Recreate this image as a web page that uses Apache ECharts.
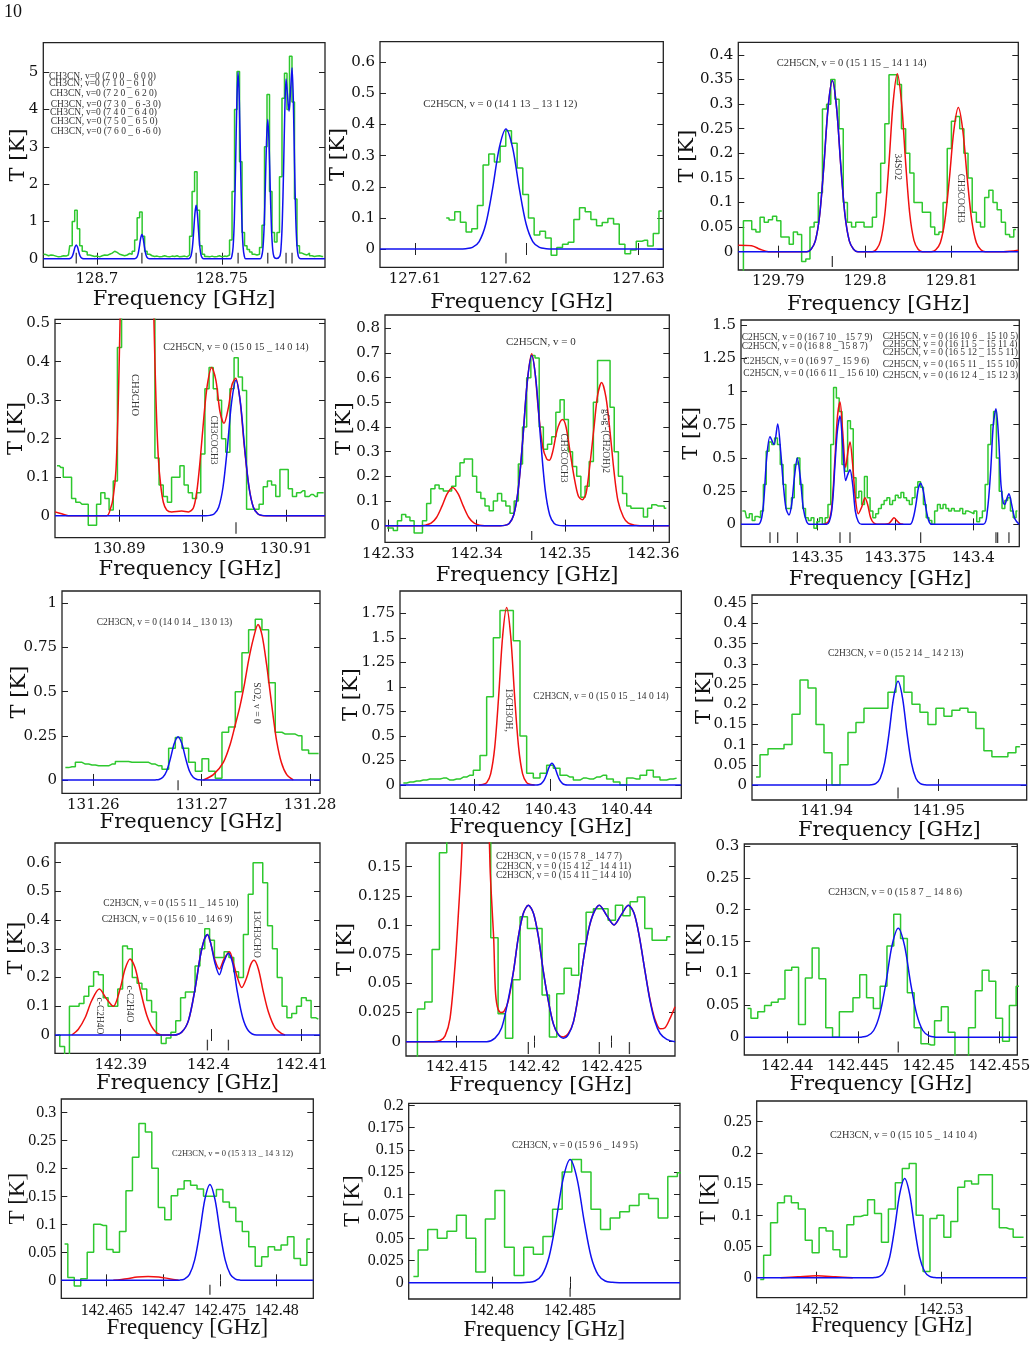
<!DOCTYPE html>
<html>
<head>
<meta charset="utf-8">
<title>Line identification spectra</title>
<script src="https://cdn.jsdelivr.net/npm/echarts@6/dist/echarts.min.js"></script>
<style>
  html, body { margin: 0; padding: 0; background: #fff; }
  #main { width: 1035px; height: 1363px; }
</style>
</head>
<body>
<div id="main"></div>
<script>
// ---------- data (frequency in GHz, T in K) ----------
// observed spectra: first channel centre, channel width, channel values
const p1Start = 128.6786, p1Step = 0.001;
const p1Green = [0.12,0.11,0.08,0.1,0.09,0.07,0.05,0.06,0.08,0.07,0.1,0.35,1.0,1.3,0.8,0.35,0.2,0.18,0.1,0.08,0.06,0.07,0.05,0.08,0.1,0.09,0.12,0.15,0.2,0.17,0.12,0.1,0.08,0.1,0.14,0.12,0.2,0.5,1.1,1.25,0.6,0.2,0.12,0.08,0.06,0.07,0.05,0.06,0.08,0.06,0.05,0.07,0.06,0.08,0.05,0.06,0.07,0.05,0.1,0.6,1.8,2.33,1.3,0.35,0.12,0.06,0.05,0.07,0.05,0.06,0.08,0.05,0.07,0.06,0.1,0.5,1.8,4.0,5.02,2.6,0.7,0.35,0.25,0.18,0.12,0.1,0.12,0.3,0.9,3.0,4.4,1.8,0.7,0.45,0.7,2.2,4.3,4.97,4.0,5.43,4.2,1.6,0.35,0.15,0.12,0.1,0.15,0.08,0.06,0.07,0.08,0.06,0.06];
const p1Blue = [[128.6786,0],[128.6887,0],[128.68922,0.005],[128.68972,0.023],[128.69022,0.078],[128.69072,0.185],[128.69122,0.311],[128.69172,0.37],[128.69222,0.311],[128.69272,0.185],[128.69322,0.078],[128.69372,0.023],[128.69422,0.005],[128.6947,0],
  [128.715,0],[128.7155,0.009],[128.716,0.041],[128.7165,0.137],[128.717,0.325],[128.7175,0.547],[128.718,0.65],[128.7185,0.547],[128.719,0.325],[128.7195,0.137],[128.72,0.041],[128.7205,0.009],[128.721,0],
  [128.7367,0],[128.73722,0.019],[128.73772,0.089],[128.73822,0.3],[128.73872,0.715],[128.73922,1.203],[128.73972,1.43],[128.74022,1.203],[128.74072,0.715],[128.74122,0.3],[128.74172,0.089],[128.74222,0.019],[128.7427,0],
  [128.7535,0],[128.75402,0.066],[128.75452,0.313],[128.75502,1.05],[128.75552,2.5],[128.75602,4.205],[128.75652,5.0],[128.75702,4.205],[128.75752,2.5],[128.75802,1.05],[128.75852,0.313],[128.75902,0.066],[128.7595,0],
  [128.7654,0],[128.7659,0.049],[128.7664,0.233],[128.7669,0.783],[128.7674,1.865],[128.7679,3.137],[128.7684,3.73],[128.7689,3.137],[128.7694,1.865],[128.7699,0.783],[128.7704,0.233],[128.7709,0.049],[128.7718,0.008],
  [128.77322,0.07],[128.77372,0.3],[128.77422,1.0],[128.77472,2.35],[128.77522,3.95],[128.77572,4.82],[128.77622,4.45],[128.77692,3.95],[128.77762,4.6],[128.77812,5.12],[128.77862,4.3],[128.77912,2.55],[128.77962,1.07],[128.78012,0.32],[128.78062,0.07],[128.78112,0.01],[128.7816,0],[128.7913,0]];
const p1Lines = [128.69172,128.718,128.73972,128.75652,128.7684,128.77572,128.77812];
const p1XLabels = [128.7,128.75];
const p1YTicks = [0,1,2,3,4,5];

const p2Start = 127.6128, p2Step = 0.000508;
const p2Green = [0.1,0.093,0.12,0.086,0.055,0.065,0.14,0.27,0.305,0.28,0.33,0.38,0.34,0.26,0.175,0.1,0.045,0.057,0.035,-0.02,0.005,0.015,0.022,0.095,0.133,0.12,0.095,0.075,0.085,0.098,0.08,0.015,-0.015,-0.003,0.025,0.028,0.01,0.05,0.122];
const p2Blue = [[127.60687,0],[127.61395,0],[127.61455,0.001],[127.61515,0.005],[127.61575,0.024],[127.61635,0.081],[127.61695,0.193],[127.61755,0.325],[127.61815,0.386],[127.61875,0.325],[127.61935,0.193],[127.61995,0.081],[127.62055,0.024],[127.62115,0.005],[127.62175,0.001],[127.62235,0],[127.63224,0]];
const p2Lines = [127.61815];
const p2XLabels = [127.61,127.6181,127.63];
const p2XTicks = [127.61,127.62,127.63];
const p2YTicks = [0,0.1,0.2,0.3,0.4,0.5,0.6];

const p3Start = 129.78573, p3Step = 0.00048;
const p3Green = [-0.06,0.063,0.063,0.045,0.04,0.07,0.06,0.065,0.072,0.063,0.03,0.03,0.015,0.04,0.035,-0.02,-0.015,0.05,0.06,0.12,0.29,0.3,0.35,0.31,0.25,0.1,0.06,0.05,0.06,0.06,0.05,0.05,0.07,0.12,0.18,0.26,0.36,0.36,0.34,0.25,0.2,0.16,0.1,0.1,0.08,0.08,0.05,0.035,0.04,0.1,0.21,0.265,0.275,0.25,0.2,0.15,0.08,0.06,0.05,0.11,0.125,0.1,0.085,0.06,0.035,0.03,0.045];
const p3Blue = [[129.78538,0],[129.79329,0],[129.79378,0.005],[129.79427,0.022],[129.79476,0.073],[129.79525,0.174],[129.79574,0.293],[129.79623,0.348],[129.79672,0.293],[129.79721,0.174],[129.7977,0.073],[129.79819,0.022],[129.79868,0.005],[129.79917,0],[129.81769,0]];
const p3Red = [[129.78538,0.013],[129.78692,0.012],[129.78788,0.005],[129.78885,0],[129.79329,0],[129.79378,0.005],[129.79427,0.022],[129.79476,0.073],[129.79525,0.174],[129.79574,0.293],[129.79623,0.348],[129.79672,0.293],[129.79721,0.174],[129.7977,0.073],[129.79819,0.022],[129.79868,0.005],[129.79917,0],
  [129.80085,0],[129.80133,0.005],[129.80181,0.023],[129.80229,0.076],[129.80277,0.181],[129.80325,0.304],[129.80373,0.362],[129.80421,0.304],[129.80469,0.181],[129.80517,0.076],[129.80565,0.023],[129.80613,0.005],[129.80661,0],
  [129.80765,0],[129.80817,0.004],[129.80869,0.018],[129.80921,0.062],[129.80973,0.147],[129.81025,0.246],[129.81077,0.293],[129.81129,0.246],[129.81181,0.147],[129.81233,0.062],[129.81285,0.018],[129.81337,0.004],[129.81389,0],[129.81596,0],[129.81769,0.003]];
const p3Lines = [129.79623];
const p3XLabels = [129.79,129.8,129.81];
const p3YTicks = [0,0.05,0.1,0.15,0.2,0.25,0.3,0.35,0.4];

const p4Start = 130.88252, p4Step = 0.0005;
const p4Green = [0.13,0.125,0.1,0.1,0.045,0.035,0.03,0.03,-0.025,-0.025,0.03,0.06,0.045,0.015,0.09,0.437,0.8,0.9,0.9,0.9,0.9,0.9,0.8,0.7,0.15,0.08,0.05,0.035,0.1,0.1,0.13,0.08,0.06,0.045,0.06,0.16,0.33,0.385,0.33,0.3,0.2,0.165,0.33,0.41,0.36,0.325,0.017,0.017,0.017,0.03,0.075,0.09,0.08,0.05,0.12,0.12,0.07,0.05,0.06,0.065,0.05,0.055,0.05,0.06,0.06];
const p4Blue = [[130.88228,0],[130.90036,0],[130.90088,0.001],[130.9014,0.005],[130.90192,0.022],[130.90244,0.074],[130.90296,0.176],[130.90348,0.296],[130.904,0.352],[130.90452,0.296],[130.90504,0.176],[130.90556,0.074],[130.90608,0.022],[130.9066,0.005],[130.90712,0.001],[130.90764,0],[130.91468,0]];
const p4Red = [[130.88228,0.01],[130.88308,0.005],[130.88388,0],[130.88848,0],[130.88896,0.02],[130.88928,0.05],[130.8896,0.12],[130.88988,0.3],[130.89008,0.5],[130.8904,0.8],[130.89108,1.2],[130.89216,1.4],[130.89328,1.2],[130.89388,0.8],[130.89416,0.5],[130.8944,0.3],[130.89468,0.15],[130.89496,0.08],[130.89528,0.035],[130.89568,0.015],[130.89628,0.01],[130.89748,0.012],[130.89828,0.01],[130.89888,0.02],[130.89928,0.06],[130.89968,0.14],[130.90016,0.26],[130.90056,0.34],[130.90108,0.385],[130.9016,0.35],[130.90208,0.27],[130.90256,0.24],[130.90308,0.28],[130.90352,0.34],[130.90396,0.357],[130.90448,0.3],[130.905,0.18],[130.90552,0.08],[130.90608,0.022],[130.90668,0.004],[130.90728,0],[130.91468,0]];
const p4Lines = [130.904];
const p4XLabels = [130.89,130.9,130.91];
const p4YTicks = [0,0.1,0.2,0.3,0.4,0.5];

const p5Start = 142.32985, p5Step = 0.000472;
const p5Green = [-0.01,-0.01,-0.02,0.02,0.045,0.035,0.02,-0.03,-0.03,0.02,0.09,0.15,0.165,0.15,0.14,0.14,0.16,0.2,0.255,0.27,0.27,0.2,0.135,0.11,0.08,0.06,0.1,0.13,0.1,0.08,0.05,0.1,0.25,0.4,0.6,0.69,0.68,0.4,0.31,0.33,0.36,0.46,0.51,0.43,0.3,0.24,0.2,0.115,0.16,0.26,0.5,0.67,0.67,0.67,0.48,0.3,0.2,0.13,0.08,0.07,0.07,0.07,0.035,0.07,0.085,0.08,0.08,0.07];
const p5Blue = [[142.32962,0],[142.34266,0],[142.34317,0.001],[142.34368,0.009],[142.34419,0.043],[142.3447,0.145],[142.34521,0.345],[142.34572,0.58],[142.34623,0.69],[142.34674,0.58],[142.34725,0.345],[142.34776,0.145],[142.34827,0.043],[142.34878,0.009],[142.34929,0.001],[142.3498,0],[142.36181,0]];
const p5Red = [[142.32962,0],[142.3337,0],[142.33423,0.002],[142.33484,0.0097],[142.33545,0.033],[142.33606,0.078],[142.33667,0.13],[142.33728,0.155],[142.33789,0.13],[142.3385,0.078],[142.33911,0.033],[142.33972,0.0097],[142.34033,0.002],[142.3409,0],
  [142.34266,0],[142.34317,0.001],[142.34368,0.009],[142.34419,0.043],[142.3447,0.145],[142.34521,0.345],[142.34572,0.58],[142.34623,0.697],[142.34661,0.62],[142.34698,0.47],[142.34747,0.32],[142.34793,0.27],[142.34823,0.265],[142.34861,0.3],[142.34906,0.38],[142.34944,0.42],[142.34974,0.43],[142.35012,0.4],[142.35057,0.3],[142.35102,0.2],[142.35151,0.12],[142.35196,0.105],[142.35238,0.13],[142.35283,0.25],[142.35329,0.4],[142.3537,0.53],[142.35415,0.58],[142.35464,0.52],[142.3551,0.38],[142.35555,0.22],[142.356,0.1],[142.35661,0.035],[142.35717,0.01],[142.35793,0.002],[142.35849,0],[142.36181,0]];
const p5Lines = [142.34623];
const p5XLabels = [142.33,142.34,142.35,142.36];
const p5YTicks = [0,0.1,0.2,0.3,0.4,0.5,0.6,0.7,0.8];

const p6Start = 143.32596, p6Step = 0.0009;
const p6Green = [0.1,0.1,0.05,0.08,0.03,0.06,0.05,0.1,0.3,0.55,0.62,0.6,0.65,0.6,0.45,0.3,0.12,0.12,0.2,0.45,0.5,0.3,0.12,0.05,0.03,0.05,-0.03,0.02,0.05,0.0,0.05,0.15,0.6,1.03,0.95,0.85,0.45,0.4,0.78,0.72,0.35,0.2,0.25,0.15,0.36,0.2,0.1,0.05,0.08,0.12,0.15,0.18,0.2,0.15,0.18,0.22,0.2,0.24,0.2,0.18,0.15,0.2,0.28,0.32,0.28,0.15,0.05,0.03,0.0,0.1,0.15,0.12,0.15,0.12,0.1,0.12,0.1,0.1,0.12,0.08,0.1,0.09,0.08,0.1,0.02,0.05,0.1,0.3,0.6,0.75,0.85,0.5,0.25,0.12,0.18,0.2,0.1,0.05,0.1];
const p6Blue = [[143.32553,0],[143.33109,0],[143.33216,0.05],[143.33291,0.2],[143.33376,0.5],[143.33483,0.66],[143.33611,0.6],[143.33729,0.755],[143.33825,0.55],[143.3391,0.3],[143.33996,0.12],[143.34092,0.07],[143.34177,0.15],[143.34263,0.35],[143.34359,0.5],[143.34455,0.35],[143.34551,0.12],[143.34658,0.02],[143.34765,0],
  [143.35299,0],[143.35459,0.1],[143.35566,0.45],[143.35641,0.7],[143.35727,0.815],[143.35812,0.6],[143.35908,0.33],[143.35983,0.38],[143.36047,0.41],[143.36133,0.3],[143.36218,0.1],[143.36314,0.02],[143.36421,0],
  [143.3797,0],[143.38077,0.05],[143.38162,0.15],[143.38237,0.27],[143.38312,0.31],[143.38398,0.25],[143.38483,0.12],[143.38568,0.03],[143.38665,0],
  [143.40321,0],[143.40449,0.1],[143.40556,0.4],[143.40641,0.75],[143.40727,0.87],[143.40812,0.65],[143.40887,0.3],[143.40962,0.16],[143.41015,0.15],[143.41069,0.19],[143.41143,0.23],[143.41229,0.15],[143.41336,0.04],[143.41475,0]];
const p6Red = [[143.35192,0],[143.35353,0.02],[143.35459,0.12],[143.35566,0.5],[143.35641,0.8],[143.35727,0.92],[143.35812,0.7],[143.35908,0.43],[143.35983,0.55],[143.36047,0.62],[143.36133,0.45],[143.36218,0.2],[143.36314,0.08],[143.36421,0.13],[143.36528,0.2],[143.36613,0.15],[143.36709,0.05],[143.36816,0.01],[143.37009,0],[143.37276,0.005],[143.37383,0.03],[143.37457,0.05],[143.37543,0.03],[143.3765,0.005],[143.37756,0]];
const p6Lines = [143.33483,143.33729,143.34359,143.35727,143.36047,143.38312,143.40727,143.4078,143.41143];
const p6XLabels = [143.35,143.375,143.4];
const p6YTicks = [0,0.25,0.5,0.75,1,1.25,1.5];

const p7Start = 131.25742, p7Step = 0.000615;
const p7Green = [0.07,0.075,0.1,0.09,0.085,0.08,0.08,0.09,0.105,0.105,0.1,0.1,0.1,0.09,0.08,0.06,0.18,0.24,0.18,0.1,0.05,0.12,0.05,0.01,0.27,0.3,0.5,0.72,0.85,0.91,0.85,0.55,0.27,0.26,0.26,0.25,0.17,0.15,0.15];
const p7Blue = [[131.25711,0],[131.26537,0],[131.26572,0.0005],[131.26607,0.003],[131.26642,0.015],[131.26677,0.051],[131.26712,0.1225],[131.26747,0.206],[131.26782,0.245],[131.26817,0.206],[131.26852,0.1225],[131.26887,0.051],[131.26922,0.015],[131.26957,0.003],[131.26992,0.0005],[131.27027,0],[131.28092,0]];
const p7Red = [[131.27015,0],[131.27108,0.03],[131.272,0.1],[131.27262,0.2],[131.27305,0.3],[131.27354,0.42],[131.27397,0.55],[131.27434,0.68],[131.27477,0.8],[131.2752,0.88],[131.27557,0.82],[131.276,0.65],[131.27631,0.5],[131.27662,0.35],[131.27692,0.22],[131.27735,0.1],[131.27785,0.03],[131.27846,0]];
const p7Lines = [131.26782];
const p7XLabels = [131.26,131.27,131.28];
const p7YTicks = [0,0.25,0.5,0.75,1];

const p8Start = 140.41062, p8Step = 0.000877;
const p8Green = [0.02,0.03,0.04,0.05,0.06,0.06,0.07,0.05,0.06,0.08,0.1,0.15,0.3,0.9,1.5,1.78,1.78,1.47,0.5,0.12,0.07,0.12,0.2,0.17,0.1,0.08,0.05,0.07,0.06,0.08,0.1,0.06,0.03,0.0,0.07,0.06,0.1,0.15,0.08,0.05,0.06,0.07];
const p8Blue = [[140.41018,0],[140.42772,0],[140.42807,0.0005],[140.42842,0.003],[140.42877,0.014],[140.42912,0.046],[140.42947,0.11],[140.42982,0.186],[140.43017,0.221],[140.43052,0.186],[140.43087,0.11],[140.43122,0.046],[140.43157,0.014],[140.43192,0.003],[140.43227,0.0005],[140.43262,0],[140.44719,0]];
const p8Red = [[140.42054,0],[140.42106,0.004],[140.42159,0.024],[140.42211,0.113],[140.42264,0.38],[140.42316,0.905],[140.42369,1.522],[140.42421,1.81],[140.42474,1.522],[140.42526,0.905],[140.42579,0.38],[140.42631,0.113],[140.42684,0.024],[140.42736,0.004],[140.42789,0]];
const p8Lines = [];
const p8XLabels = [140.42,140.43,140.44];
const p8YTicks = [0,0.25,0.5,0.75,1,1.25,1.5,1.75];

const p9Start = 141.93369, p9Step = 0.000714;
const p9Green = [0.02,0.075,0.09,0.09,0.1,0.175,0.26,0.24,0.15,0.08,0.0,0.05,0.13,0.155,0.19,0.19,0.19,0.23,0.27,0.23,0.2,0.18,0.15,0.19,0.17,0.185,0.19,0.18,0.14,0.085,0.07,0.07,0.08,0.095];
const p9Blue = [[141.93333,0],[141.94357,0],[141.94397,0.0005],[141.94437,0.0034],[141.94477,0.016],[141.94517,0.054],[141.94557,0.1285],[141.94597,0.216],[141.94637,0.257],[141.94677,0.216],[141.94717,0.1285],[141.94757,0.054],[141.94797,0.016],[141.94837,0.0034],[141.94877,0.0005],[141.94917,0],[141.95786,0]];
const p9Lines = [141.94637];
const p9XLabels = [141.94,141.95];
const p9YTicks = [0,0.05,0.1,0.15,0.2,0.25,0.3,0.35,0.4,0.45];

const p10Start = 142.383, p10Step = 0.000534;
const p10Green = [0.0,-0.04,-0.08,0.1,0.1,0.11,0.135,0.17,0.22,0.21,0.13,0.1,0.1,0.16,0.31,0.3,0.2,0.18,0.16,0.12,0.08,0.0,-0.03,-0.01,0.01,0.05,0.13,0.15,0.15,0.24,0.3,0.37,0.33,0.27,0.27,0.29,0.27,0.22,0.2,0.35,0.49,0.6,0.6,0.53,0.38,0.3,0.2,0.1,0.06,0.075,0.1,0.13,0.12,0.06,0.055];
const p10Blue = [[142.38274,0],[142.39582,0],[142.39674,0.01],[142.39748,0.05],[142.39821,0.16],[142.39877,0.27],[142.39921,0.33],[142.39958,0.35],[142.39994,0.32],[142.40042,0.25],[142.4009,0.21],[142.40134,0.25],[142.4019,0.285],[142.40237,0.25],[142.40289,0.15],[142.40348,0.06],[142.40411,0.015],[142.40503,0],[142.41202,0]];
const p10Red = [[142.38459,0],[142.38532,0.02],[142.38606,0.06],[142.3868,0.12],[142.38764,0.16],[142.38845,0.125],[142.38919,0.1],[142.38993,0.16],[142.39048,0.23],[142.39103,0.265],[142.39158,0.235],[142.39214,0.16],[142.39287,0.07],[142.39361,0.02],[142.39453,0],[142.39582,0],[142.39674,0.01],[142.39748,0.05],[142.39821,0.16],[142.39877,0.27],[142.39921,0.33],[142.39958,0.35],[142.39994,0.32],[142.40042,0.26],[142.4009,0.23],[142.40142,0.265],[142.40201,0.29],[142.40245,0.25],[142.40289,0.2],[142.40337,0.165],[142.40392,0.2],[142.40436,0.245],[142.40473,0.26],[142.40521,0.23],[142.40576,0.15],[142.40632,0.08],[142.40705,0.025],[142.40779,0.005],[142.40816,0]];
const p10Lines = [142.39958,142.4019];
const p10XLabels = [142.39,142.3997,142.41];
const p10XTicks = [142.39,142.4,142.41];
const p10YTicks = [0,0.1,0.2,0.3,0.4,0.5,0.6];

const p11Start = 142.41223, p11Step = 0.000473;
const p11Green = [-0.02,0.028,0.034,0.079,0.162,0.25,0.3,0.3,0.3,0.3,0.25,0.089,0.024,0.003,0.053,0.107,0.097,0.097,0.04,0.004,0.041,0.063,0.057,0.084,0.111,0.114,0.114,0.104,0.117,0.108,0.12,0.124,0.097,0.087,0.087,0.09];
const p11Blue = [[142.41173,0],[142.41694,0],[142.41747,0.003],[142.4179,0.012],[142.41823,0.03],[142.41866,0.06],[142.41898,0.09],[142.4193,0.11],[142.41962,0.117],[142.41995,0.11],[142.42027,0.09],[142.42059,0.06],[142.42091,0.035],[142.42124,0.015],[142.42156,0.006],[142.42188,0.003],[142.4222,0.006],[142.42253,0.017],[142.42285,0.04],[142.42317,0.07],[142.42349,0.095],[142.42382,0.11],[142.4242,0.117],[142.42468,0.108],[142.42515,0.1],[142.42558,0.108],[142.42607,0.117],[142.42644,0.11],[142.42678,0.09],[142.42715,0.06],[142.42747,0.035],[142.42779,0.017],[142.42812,0.007],[142.42855,0.002],[142.42908,0]];
const p11Red = [[142.41173,0],[142.4135,0],[142.41393,0.001],[142.41425,0.005],[142.41457,0.02],[142.41489,0.065],[142.41511,0.11],[142.41532,0.16],[142.41554,0.25],[142.41586,0.45],[142.41629,0.6],[142.41672,0.45],[142.41698,0.25],[142.41715,0.15],[142.4173,0.11],[142.41739,0.087],[142.41749,0.045],[142.41762,0.03],[142.41784,0.025],[142.41805,0.026],[142.41833,0.035],[142.41866,0.06],[142.41898,0.09],[142.4193,0.11],[142.41962,0.117],[142.41995,0.11],[142.42027,0.09],[142.42059,0.06],[142.42091,0.035],[142.42124,0.015],[142.42156,0.006],[142.42188,0.004],[142.4222,0.007],[142.42253,0.017],[142.42285,0.04],[142.42317,0.07],[142.42349,0.095],[142.42382,0.11],[142.4242,0.117],[142.42468,0.108],[142.42515,0.1],[142.42558,0.108],[142.42607,0.117],[142.42644,0.11],[142.42678,0.09],[142.42715,0.06],[142.42747,0.036],[142.42779,0.019],[142.42812,0.011],[142.42844,0.012],[142.42876,0.02],[142.42908,0.03]];
const p11Lines = [142.41962,142.4242,142.42614];
const p11XLabels = [142.415,142.42,142.425];
const p11YTicks = [0,0.025,0.05,0.075,0.1,0.125,0.15];

const p12Start = 142.43719, p12Step = 0.000481;
const p12Green = [0.045,0.03,0.04,0.05,0.055,0.06,0.105,0.11,0.02,0.093,0.14,0.092,0.015,0.0,0.04,0.04,0.062,0.098,0.062,0.045,0.08,0.143,0.193,0.155,0.07,0.015,-0.01,-0.012,0.026,0.048,0.008,-0.04,-0.04,0.015,0.073,0.105,0.088,0.03,-0.006,0.05,0.08];
const p12Blue = [[142.43696,0],[142.44479,0],[142.44523,0.0003],[142.44567,0.0022],[142.44611,0.0107],[142.44654,0.036],[142.44698,0.0855],[142.44741,0.144],[142.44785,0.171],[142.44829,0.144],[142.44872,0.0855],[142.44916,0.036],[142.44959,0.0107],[142.45003,0.0022],[142.45047,0.0003],[142.45091,0],[142.45627,0]];
const p12Lines = [142.44785];
const p12XLabels = [142.44,142.445,142.45,142.455];
const p12YTicks = [0,0.05,0.1,0.15,0.2,0.25,0.3];

const p13Start = 142.46129, p13Step = 0.00057;
const p13Green = [0.065,0.005,-0.01,0.003,0.05,0.1,0.098,0.055,0.05,0.087,0.16,0.22,0.28,0.265,0.2,0.13,0.108,0.151,0.163,0.178,0.17,0.163,0.15,0.15,0.162,0.14,0.13,0.105,0.087,0.06,0.025,0.042,0.06,0.054,0.063,0.078,0.039,0.027,0.074];
const p13Blue = [[142.461,0],[142.47096,0],[142.47141,0.0003],[142.47186,0.0022],[142.47231,0.0107],[142.47276,0.036],[142.47321,0.0855],[142.47366,0.144],[142.47411,0.171],[142.47456,0.144],[142.47501,0.0855],[142.47546,0.036],[142.47591,0.0107],[142.47636,0.0022],[142.47681,0.0003],[142.47726,0],[142.48323,0]];
const p13Red = [[142.46559,0],[142.4668,0.003],[142.4677,0.006],[142.46865,0.007],[142.4696,0.006],[142.4705,0.003],[142.47135,0]];
const p13Lines = [142.47411];
const p13XLabels = [142.465,142.47,142.475,142.48];
const p13YTicks = [0,0.05,0.1,0.15,0.2,0.25,0.3];

const p14Start = 142.47496, p14Step = 0.000615;
const p14Green = [0.007,0.037,0.06,0.05,0.058,0.076,0.05,0.012,0.072,0.104,0.04,0.008,0.04,0.032,0.052,0.083,0.125,0.139,0.125,0.083,0.06,0.073,0.08,0.087,0.1,0.095,0.073,0.12,0.124];
const p14Blue = [[142.47466,0],[142.48185,0],[142.4823,0.0003],[142.48275,0.0018],[142.4832,0.0087],[142.48365,0.029],[142.4841,0.0695],[142.48455,0.117],[142.485,0.139],[142.48545,0.117],[142.4859,0.0695],[142.48635,0.029],[142.4868,0.0087],[142.48725,0.0018],[142.4877,0.0003],[142.48815,0],[142.49204,0]];
const p14Lines = [142.485];
const p14XLabels = [142.48,142.485];
const p14YTicks = [0,0.025,0.05,0.075,0.1,0.125,0.15,0.175,0.2];

const p15Start = 142.51547, p15Step = 0.000556;
const p15Green = [-0.003,0.036,0.088,0.12,0.131,0.12,0.11,0.06,0.04,0.08,0.075,0.045,0.033,0.085,0.098,0.1,0.125,0.103,0.057,0.11,0.152,0.175,0.183,0.1,0.01,0.095,0.1,0.065,0.09,0.145,0.155,0.15,0.165,0.165,0.11,0.08,0.078,0.065,0.065];
const p15Blue = [[142.51519,0],[142.52426,0],[142.52466,0.0003],[142.52506,0.002],[142.52546,0.01],[142.52586,0.033],[142.52626,0.0795],[142.52666,0.134],[142.52706,0.159],[142.52746,0.134],[142.52786,0.0795],[142.52826,0.033],[142.52866,0.01],[142.52906,0.002],[142.52946,0.0003],[142.52986,0],[142.53685,0]];
const p15Red = [[142.5171,0],[142.5185,0.0015],[142.52,0.003],[142.5215,0.0015],[142.5229,0]];
const p15Lines = [142.52706];
const p15XLabels = [142.52,142.53];
const p15YTicks = [0,0.05,0.1,0.15,0.2,0.25];

// ---------- layout ----------
const GREEN = '#2ec82e', BLUE = '#1010f0', RED = '#f01010';
const SERIF = 'DejaVu Serif', NARROW = 'Liberation Serif';

const panels = [
  { box:[43.3,42.7,281.7,224.6], x:[128.67852,128.79132], y:[-0.23,5.79], start:p1Start, step:p1Step, green:p1Green, blue:p1Blue, lines:p1Lines, xLab:p1XLabels, yTicks:p1YTicks, lineY:0.018, lineH:10.7, xGap:22, yGap:14.3 },
  { box:[380,41.7,283.3,225.6], x:[127.60687,127.63224], y:[-0.0588,0.6663], start:p2Start, step:p2Step, green:p2Green, blue:p2Blue, lines:p2Lines, xLab:p2XLabels, xTicks:p2XTicks, xDig:2, yTicks:p2YTicks, lineY:-0.029, lineH:10.7, xGap:25, yGap:30.5 },
  { box:[738.3,42.3,280,227.7], x:[129.78538,129.81769], y:[-0.0373,0.4258], start:p3Start, step:p3Step, green:p3Green, red:p3Red, blue:p3Blue, lines:p3Lines, xLab:p3XLabels, yTicks:p3YTicks, lineY:-0.02, lineH:11, xGap:24, yGap:39.8 },
  { box:[55,319.3,270,218.4], x:[130.88228,130.91468], y:[-0.057,0.51], start:p4Start, step:p4Step, green:p4Green, red:p4Red, blue:p4Blue, lines:p4Lines, xLab:p4XLabels, yTicks:p4YTicks, lineY:-0.032, lineH:11.5, xGap:21, yGap:27.8 },
  { box:[385,315,284.3,227.3], x:[142.32962,142.36181], y:[-0.0676,0.854], start:p5Start, step:p5Step, green:p5Green, red:p5Red, blue:p5Blue, lines:p5Lines, xLab:p5XLabels, yTicks:p5YTicks, lineY:-0.04, lineH:9, xGap:23, yGap:29.5 },
  { box:[741,320,278.3,226.7], x:[143.32553,143.41475], y:[-0.168,1.5375], start:p6Start, step:p6Step, green:p6Green, red:p6Red, blue:p6Blue, lines:p6Lines, xLab:p6XLabels, yTicks:p6YTicks, lineY:-0.1, lineH:10.7, xGap:22, yGap:38.5 },
  { box:[62,591,258,202.3], x:[131.25711,131.28092], y:[-0.0755,1.07], start:p7Start, step:p7Step, green:p7Green, red:p7Red, blue:p7Blue, lines:p7Lines, xLab:p7XLabels, yTicks:p7YTicks, lineY:-0.03, lineH:10, xGap:19, yGap:31.5 },
  { box:[400,591,281.3,207.3], x:[140.41018,140.44719], y:[-0.136,1.978], start:p8Start, step:p8Step, green:p8Green, red:p8Red, blue:p8Blue, lines:p8Lines, xLab:p8XLabels, yTicks:p8YTicks, lineY:0, lineH:10, xGap:19, yGap:37.5 },
  { box:[752,595,274.7,205], x:[141.93333,141.95786], y:[-0.0372,0.4707], start:p9Start, step:p9Step, green:p9Green, blue:p9Blue, lines:p9Lines, xLab:p9XLabels, yTicks:p9YTicks, lineY:-0.02, lineH:11, xGap:20, yGap:37 },
  { box:[55,843,265,210.3], x:[142.38274,142.41202], y:[-0.0637,0.6685], start:p10Start, step:p10Step, green:p10Green, red:p10Red, blue:p10Blue, lines:p10Lines, xLab:p10XLabels, xTicks:p10XTicks, xDig:2, yTicks:p10YTicks, lineY:-0.035, lineH:10.7, xGap:20, yGap:27.5 },
  { box:[406,843,269,213], x:[142.41173,142.42908], y:[-0.0123,0.1703], start:p11Start, step:p11Step, green:p11Green, red:p11Red, blue:p11Blue, lines:p11Lines, xLab:p11XLabels, yTicks:p11YTicks, lineY:-0.0055, lineH:12, xGap:19.5, yGap:49.5 },
  { box:[744.3,844,273,211], x:[142.43696,142.45627], y:[-0.0277,0.303], start:p12Start, step:p12Step, green:p12Green, blue:p12Blue, lines:p12Lines, xLab:p12XLabels, yTicks:p12YTicks, lineY:-0.015, lineH:11, xGap:19, yGap:37.8 },
  { box:[61.3,1099,252,199.3], x:[142.461,142.48323], y:[-0.0321,0.3238], start:p13Start, step:p13Step, green:p13Green, red:p13Red, blue:p13Blue, lines:p13Lines, xLab:p13XLabels, yTicks:p13YTicks, lineY:-0.017, lineH:10, xGap:18, yGap:32, narrow:true },
  { box:[408.7,1103.3,271.3,195.7], x:[142.47466,142.49204], y:[-0.0185,0.2026], start:p14Start, step:p14Step, green:p14Green, blue:p14Blue, lines:p14Lines, xLab:p14XLabels, yTicks:p14YTicks, lineY:-0.011, lineH:9, xGap:19, yGap:44, narrow:true },
  { box:[756.7,1101,270,196.7], x:[142.51519,142.53685], y:[-0.032,0.2831], start:p15Start, step:p15Step, green:p15Green, red:p15Red, blue:p15Blue, lines:p15Lines, xLab:p15XLabels, yTicks:p15YTicks, lineY:-0.02, lineH:10.7, xGap:17, yGap:36, narrow:true }
];

// annotations: [text, x, y, vertical, font size]
const notes = [
  ['CH3CN, v=0 (7 0 0 _ 6 0 0)', 49, 76.7], ['CH3CN, v=0 (7 1 0 _ 6 1 0', 49, 83.3],
  ['CH3CN, v=0 (7 2 0 _ 6 2 0)', 50, 93.3], ['CH3CN, v=0 (7 3 0 _ 6 -3 0)', 50.7, 104],
  ['CH3CN, v=0 (7 4 0 _ 6 4 0)', 50, 112], ['CH3CN, v=0 (7 5 0 _ 6 5 0)', 50.7, 121.7],
  ['CH3CN, v=0 (7 6 0 _ 6 -6 0)', 50.7, 131.7],
  ['C2H5CN, v = 0 (14 1 13 _ 13 1 12)', 423.3, 104, false, 10.8],
  ['C2H5CN, v = 0 (15 1 15 _ 14 1 14)', 776.7, 63.3, false, 10.5],
  ['34SO2', 897.3, 166.7, true], ['CH3COCH3', 960.7, 198.3, true],
  ['C2H5CN, v = 0 (15 0 15 _ 14 0 14)', 163.3, 347.7, false, 10.2],
  ['CH3CHO', 135, 395, true, 10.5], ['CH3COCH3', 213.3, 440, true],
  ['C2H5CN, v = 0', 506, 342.3, false, 11],
  ['CH3COCH3', 563.3, 458, true], ["gGg'-(CH2OH)2", 605, 441, true],
  ['C2H5CN, v = 0 (16 7 10 _ 15 7 9)', 741.7, 337.3], ['C2H5CN, v = 0 (16 8 8 _ 15 8 7)', 741.7, 346.7],
  ['C2H5CN, v = 0 (16 9 7 _ 15 9 6)', 743.3, 361.7], ['C2H5CN, v = 0 (16 6 11 _ 15 6 10)', 743.3, 373.3],
  ['C2H5CN, v = 0 (16 10 6 _ 15 10 5)', 882.7, 336], ['C2H5CN, v = 0 (16 11 5 _ 15 11 4)', 882.7, 344.3],
  ['C2H5CN, v = 0 (16 5 12 _ 15 5 11)', 882.7, 352.7], ['C2H5CN, v = 0 (16 5 11 _ 15 5 10)', 882.7, 364],
  ['C2H5CN, v = 0 (16 12 4 _ 15 12 3)', 882.7, 375.7],
  ['C2H3CN, v = 0 (14 0 14 _ 13 0 13)', 96.7, 622.7], ['SO2, v = 0', 256.7, 703, true],
  ['C2H3CN, v = 0 (15 0 15 _ 14 0 14)', 533.3, 696.7], ['13CH3OH,', 508, 710, true],
  ['C2H3CN, v = 0 (15 2 14 _ 14 2 13)', 828, 653.3],
  ['C2H3CN, v = 0 (15 5 11 _ 14 5 10)', 103.3, 903.3], ['C2H3CN, v = 0 (15 6 10 _ 14 6 9)', 101.7, 919],
  ['c-C2H4O', 99.3, 1016, true], ['c-C2H4O', 129.3, 1004, true], ['13CH3CHO', 256.7, 934, true],
  ['C2H3CN, v = 0 (15 7 8 _ 14 7 7)', 496, 856.7], ['C2H3CN, v = 0 (15 4 12 _ 14 4 11)', 496, 866],
  ['C2H3CN, v = 0 (15 4 11 _ 14 4 10)', 496, 875],
  ['C2H3CN, v = 0 (15 8 7 _ 14 8 6)', 828.3, 892.7, false, 10.1],
  ['C2H3CN, v = 0 (15 3 13 _ 14 3 12)', 172, 1153.3, false, 8.5],
  ['C2H3CN, v = 0 (15 9 6 _ 14 9 5)', 512, 1145.7],
  ['C2H3CN, v = 0 (15 10 5 _ 14 10 4)', 830, 1135.7, false, 10.3]
];

// ---------- build option ----------
const grid = [], xAxis = [], yAxis = [], series = [];
const tickStyle = { inside: true, length: 6, lineStyle: { color: '#222', width: 1 } };

panels.forEach((p, k) => {
  const nameStyle = p.narrow ? { fontFamily: NARROW, fontSize: 23, color: '#111' } : { fontFamily: SERIF, fontSize: 21, color: '#111' };
  const labelStyle = p.narrow ? { fontFamily: NARROW, fontSize: 16, color: '#111' } : { fontFamily: SERIF, fontSize: 15, color: '#111' };
  grid.push({ left: p.box[0], top: p.box[1], width: p.box[2], height: p.box[3], show: true,
    borderColor: '#222', borderWidth: 1.3, outerBoundsMode: 'none', containLabel: false });
  const dig = p.xDig || 3;
  const fmtX = v => String(+Number(v).toFixed(dig));
  const fmtY = v => String(+Number(v).toFixed(3));
  const xBase = { gridIndex: k, type: 'value', min: p.x[0], max: p.x[1], splitLine: { show: false }, axisLine: { show: false } };
  const yBase = { gridIndex: k, type: 'value', min: p.y[0], max: p.y[1], splitLine: { show: false }, axisLine: { show: false } };
  xAxis.push(Object.assign({}, xBase, { position: 'bottom', name: 'Frequency [GHz]', nameLocation: 'middle', nameGap: p.xGap,
    nameMoveOverlap: false, nameTextStyle: nameStyle,
    axisTick: Object.assign({ customValues: p.xTicks || p.xLab }, tickStyle),
    axisLabel: Object.assign({ customValues: p.xLab, formatter: fmtX, margin: 4, hideOverlap: false }, labelStyle) }));
  xAxis.push(Object.assign({}, xBase, { position: 'top', axisLabel: { show: false },
    axisTick: Object.assign({ customValues: p.xTicks || p.xLab }, tickStyle) }));
  yAxis.push(Object.assign({}, yBase, { position: 'left', name: 'T [K]', nameLocation: 'middle', nameGap: p.yGap,
    nameMoveOverlap: false, nameTextStyle: nameStyle,
    axisTick: Object.assign({ customValues: p.yTicks }, tickStyle),
    axisLabel: Object.assign({ customValues: p.yTicks, formatter: fmtY, margin: 5, hideOverlap: false }, labelStyle) }));
  yAxis.push(Object.assign({}, yBase, { position: 'right', axisLabel: { show: false },
    axisTick: Object.assign({ customValues: p.yTicks }, tickStyle) }));

  const xi = 2 * k, yi = 2 * k;
  series.push({ type: 'line', xAxisIndex: xi, yAxisIndex: yi, step: 'middle', showSymbol: false, silent: true, z: 2,
    data: p.green.map((v, i) => [+(p.start + i * p.step).toFixed(6), v]),
    lineStyle: { color: GREEN, width: 1.5 } });
  if (p.red) series.push({ type: 'line', xAxisIndex: xi, yAxisIndex: yi, smooth: 0.3, showSymbol: false, silent: true, z: 3,
    data: p.red, lineStyle: { color: RED, width: 1.5 } });
  series.push({ type: 'line', xAxisIndex: xi, yAxisIndex: yi, smooth: 0.3, showSymbol: false, silent: true, z: 4,
    data: p.blue, lineStyle: { color: BLUE, width: 1.5 } });
  if (p.lines.length) series.push({ type: 'scatter', xAxisIndex: xi, yAxisIndex: yi, silent: true, z: 5,
    symbol: 'rect', symbolSize: [1.3, p.lineH], itemStyle: { color: '#111' },
    data: p.lines.map(f => [f, p.lineY]) });
});

const graphic = notes.map(n => ({
  type: 'text', x: n[1], y: n[2], rotation: n[3] ? -Math.PI / 2 : 0, silent: true, z: 100,
  style: { text: n[0], fontFamily: NARROW, fontSize: n[4] || 9.5, fill: '#333',
    align: n[3] ? 'center' : 'left', verticalAlign: 'middle' }
}));
graphic.push({ type: 'text', x: 4, y: 12, silent: true,
  style: { text: '10', fontFamily: NARROW, fontSize: 18, fill: '#111', verticalAlign: 'middle' } });

const chart = echarts.init(document.getElementById('main'), null, { renderer: 'canvas' });
chart.setOption({ backgroundColor: '#fff', animation: false, grid, xAxis, yAxis, series, graphic });
</script>
</body>
</html>
